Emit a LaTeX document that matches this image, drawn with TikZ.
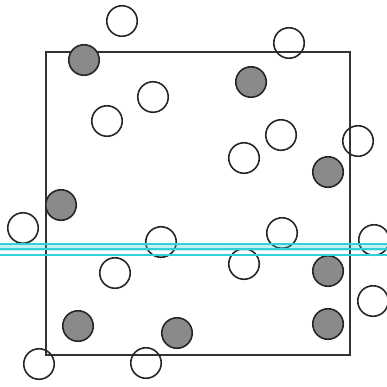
\documentclass[tikz,border=0pt]{standalone}
\definecolor{dotgray}{RGB}{138,138,138}
\definecolor{guide}{RGB}{50,208,215}
\begin{document}
\begin{tikzpicture}[x=0.1mm,y=-0.1mm,line width=0.4pt,
  whitedot/.style={circle,draw=black!85,line width=0.45pt,inner sep=0pt,minimum size=3.05mm},
  graydot/.style={whitedot,fill=dotgray,draw=black!85}]
  \useasboundingbox (0,0) rectangle (387,386);

  \coordinate (A) at (46,52);
  \coordinate (B) at (350,52);
  \coordinate (C) at (350,355);
  \coordinate (D) at (46,355);

  % 方框
  \draw[black!80,line width=0.35pt] (A) -- (B) -- (C) -- (D) -- cycle;

  % 灰点
  \node[graydot] (g1) at (84,60) {};
  \node[graydot] (g2) at (251,82) {};
  \node[graydot] (g3) at (328,172) {};
  \node[graydot] (g4) at (61,205) {};
  \node[graydot] (g5) at (328,271) {};
  \node[graydot] (g6) at (78,326) {};
  \node[graydot] (g7) at (177,333) {};
  \node[graydot] (g8) at (328,324) {};

  % 白点
  \node[whitedot] (w1) at (122,21) {};
  \node[whitedot] (w2) at (289,43) {};
  \node[whitedot] (w3) at (153,97) {};
  \node[whitedot] (w4) at (107,121) {};
  \node[whitedot] (w5) at (281,135) {};
  \node[whitedot] (w6) at (358,141) {};
  \node[whitedot] (w7) at (244,158) {};
  \node[whitedot] (w8) at (23,228) {};
  \node[whitedot] (w9) at (282,233) {};
  \node[whitedot] (w10) at (374,240) {};
  \node[whitedot] (w11) at (161,242) {};
  \node[whitedot] (w12) at (244,264) {};
  \node[whitedot] (w13) at (115,273) {};
  \node[whitedot] (w14) at (373,301) {};
  \node[whitedot] (w15) at (39,364) {};
  \node[whitedot] (w16) at (146,363) {};

  % 青色横线
  \coordinate (L1) at (0,244);
  \coordinate (R1) at (387,244);
  \coordinate (L2) at (0,249);
  \coordinate (R2) at (387,249);
  \coordinate (L3) at (0,255);
  \coordinate (R3) at (387,255);
  \fill[guide,opacity=0.3] (0,242.5) rectangle (387,250.5);
  \draw[guide,line width=0.4pt] (L1) -- (R1);
  \draw[guide,line width=0.4pt] (L2) -- (R2);
  \draw[guide,line width=0.5pt] (L3) -- (R3);
\end{tikzpicture}
\end{document}
